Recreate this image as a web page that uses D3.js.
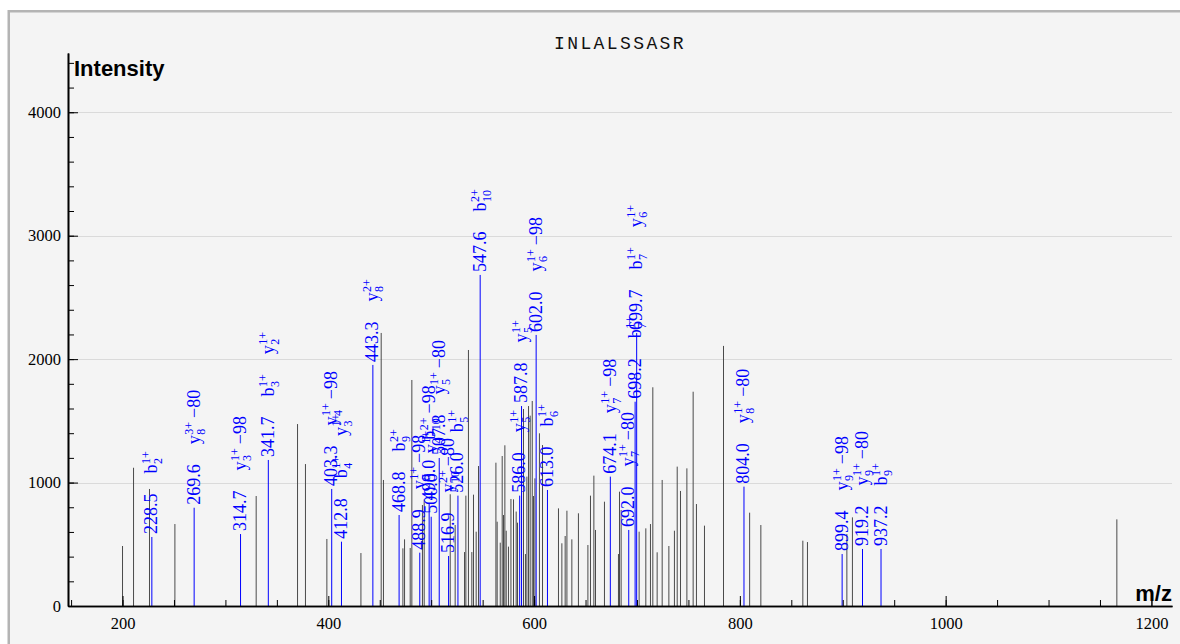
<!DOCTYPE html>
<html>
<head>
<meta charset="utf-8">
<script src="https://cdn.jsdelivr.net/npm/d3@7"></script>
<style>
  html, body { margin: 0; padding: 0; background: #ffffff; }
  svg { display: block; }
</style>
</head>
<body>
<svg id="chart" width="1180" height="644"></svg>
<script>
// ---------------- data ----------------
const peptide = "INLALSSASR";
const xAxisTitle = "m/z";
const yAxisTitle = "Intensity";

// unannotated peaks
const grayMz = [200.0, 210.7, 226.2, 250.9, 329.9, 370.1, 377.8, 398.6, 431.7, 451.4, 453.6,
  472.5, 474.1, 479.6, 481.2, 491.5, 493.2, 518.5, 523.3, 532.4, 533.7, 536.2, 539.5, 541.1,
  543.7, 546.0, 562.9, 564.1, 567.1, 569.0, 570.3, 571.6, 572.9, 575.1, 577.5, 580.0, 582.6,
  583.9, 589.7, 591.6, 593.0, 594.6, 596.2, 598.2, 599.4, 600.8, 605.2, 608.2, 623.7, 627.0,
  630.2, 631.9, 636.7, 643.1, 652.3, 654.8, 658.1, 659.7, 668.4, 682.0, 683.0, 684.6, 702.1,
  708.6, 713.1, 715.4, 719.6, 724.5, 731.0, 736.4, 739.1, 742.3, 748.5, 754.6, 757.8, 765.6,
  784.1, 809.5, 820.4, 861.2, 865.7, 904.0, 909.4, 1166.4];
const grayInt = [486, 1120, 948, 664, 891, 1474, 1150, 543, 429, 2212, 1021,
  467, 540, 470, 1831, 818, 864, 905, 656, 437, 894, 2074, 437, 902,
  602, 1134, 1161, 683, 513, 1215, 737, 1302, 610, 481, 867, 864, 765,
  675, 1596, 421, 1048, 1620, 1542, 1661, 891, 1034, 1399, 1304, 791, 508,
  567, 772, 540, 751, 494, 894, 1056, 616, 845, 421, 926, 778, 602,
  629, 664, 1772, 435, 1021, 486, 610, 1129, 932, 1115, 1736, 826, 651,
  2107, 756, 656, 529, 518, 583, 718, 702];

// annotated peaks
const ionMz = [228.5, 269.6, 314.7, 341.7, 403.3, 412.8, 443.3, 468.8, 488.9, 498.0, 500.0,
  507.8, 516.9, 526.0, 547.6, 586.0, 587.8, 602.0, 613.0, 674.1, 692.0, 698.2, 699.7,
  804.0, 899.4, 919.2, 937.2];
const ionInt = [559, 796, 583, 1183, 948, 521, 1953, 737, 432, 832, 723,
  1199, 405, 894, 2682, 894, 1620, 2196, 940, 1048, 616, 1655, 2212,
  967, 421, 462, 462];
const ionNames = [
  ["b_2^1+"], ["y_8^3+ −80"], ["y_3^1+ −98"], ["b_3^1+", "y_2^1+"], ["y_4^1+ −98"],
  ["b_4^1+", "y_3^1+"], ["y_8^2+"], ["b_9^2+"], ["y_5^1+ −98"], ["b_10^2+ −98"], ["y_4^1+"],
  ["y_5^1+ −80"], ["y_10^2+ −80"], ["b_5^1+"], ["b_10^2+"], ["y_5^1+"], ["y_5^1+"],
  ["y_6^1+ −98"], ["b_6^1+"], ["y_7^1+ −98"], ["y_7^1+ −80"], ["b_7^1+"], ["b_7^1+", "y_6^1+"],
  ["y_8^1+ −80"], ["y_9^1+ −98"], ["y_9^1+ −80"], ["b_9^1+"]
];

const xMajorTicks = [200, 400, 600, 800, 1000, 1200];
const yMajorTicks = [0, 1000, 2000, 3000, 4000];

// ---------------- drawing ----------------
const svg = d3.select("#chart");
const plot = { left: 68, right: 1172, top: 53, bottom: 606 };

// frame
svg.append("rect").attr("x", 8.75).attr("y", 11.25).attr("width", 1200).attr("height", 700)
  .attr("fill", "#f4f4f4").attr("stroke", "#b4b4b4").attr("stroke-width", 2.5);

const x = d3.scaleLinear().domain([147, 1220]).range([plot.left, plot.right]);
const y = d3.scaleLinear().domain([0, 4480]).range([plot.bottom, plot.top]);

// grid
svg.append("g").selectAll("line").data(yMajorTicks.filter(d => d > 0)).join("line")
  .attr("x1", plot.left).attr("x2", plot.right)
  .attr("y1", d => Math.round(y(d)) + 0.5).attr("y2", d => Math.round(y(d)) + 0.5)
  .attr("stroke", "#dadada").attr("stroke-width", 1);

// title
svg.append("text").attr("x", 620).attr("y", 49).attr("text-anchor", "middle")
  .attr("font-family", "'Liberation Mono', 'DejaVu Sans Mono', monospace")
  .attr("font-size", 18).attr("letter-spacing", 2.4).attr("fill", "#111")
  .text(peptide);

// gray peaks
svg.append("g").selectAll("line").data(grayMz.map((m, i) => [m, grayInt[i]])).join("line")
  .attr("x1", d => x(d[0])).attr("x2", d => x(d[0]))
  .attr("y1", plot.bottom).attr("y2", d => y(d[1]))
  .attr("stroke", "#4a4a4a").attr("stroke-width", 1);

// annotated peaks
svg.append("g").selectAll("line").data(ionMz.map((m, i) => [m, ionInt[i]])).join("line")
  .attr("x1", d => x(d[0])).attr("x2", d => x(d[0]))
  .attr("y1", plot.bottom).attr("y2", d => y(d[1]))
  .attr("stroke", "#0000ff").attr("stroke-width", 1);

// axes
const serif = "'Liberation Serif', 'DejaVu Serif', serif";
const xMinor = d3.axisBottom(x).tickValues(d3.range(150, 1201, 50)).tickSize(-6).tickSizeOuter(0).tickFormat("");
const xMajor = d3.axisBottom(x).tickValues(xMajorTicks).tickSize(-10).tickSizeOuter(0).tickPadding(11).tickFormat(d3.format("d"));
const yMinor = d3.axisLeft(y).tickValues(d3.range(0, 4401, 200)).tickSize(-6).tickSizeOuter(0).tickFormat("");
const yMajor = d3.axisLeft(y).tickValues(yMajorTicks).tickSize(-10).tickSizeOuter(0).tickPadding(7).tickFormat(d3.format("d"));

function styleAxis(g) {
  g.selectAll("path").attr("stroke", "#000").attr("stroke-width", 1.6);
  g.selectAll("line").attr("stroke", "#000").attr("stroke-width", 1);
  g.selectAll("text").attr("font-family", serif).attr("font-size", 16.5).attr("fill", "#000");
}
svg.append("g").attr("transform", `translate(0,${plot.bottom})`).call(xMinor).call(styleAxis);
svg.append("g").attr("transform", `translate(0,${plot.bottom})`).call(xMajor).call(styleAxis);
svg.append("g").attr("transform", `translate(${plot.left},0)`).call(yMinor).call(styleAxis);
svg.append("g").attr("transform", `translate(${plot.left},0)`).call(yMajor).call(styleAxis);

// axis titles
svg.append("text").attr("x", 74).attr("y", 76)
  .attr("font-family", "'Liberation Sans', Arial, sans-serif").attr("font-weight", "bold")
  .attr("font-size", 22).attr("fill", "#000").text(yAxisTitle);
svg.append("text").attr("x", 1172).attr("y", 601).attr("text-anchor", "end")
  .attr("font-family", "'Liberation Sans', Arial, sans-serif").attr("font-weight", "bold")
  .attr("font-size", 22).attr("fill", "#000").text(xAxisTitle);

// rotated annotation labels
const labelRe = /^([a-z])_(\d+)\^(\d\+)(.*)$/;
ionMz.forEach((m, i) => {
  const g = svg.append("g")
    .attr("transform", `translate(${x(m)},${y(ionInt[i])}) rotate(-90)`)
    .attr("fill", "#0000ff").attr("font-family", serif);
  let pos = 3;
  const num = g.append("text").attr("x", pos).attr("y", 5.5).attr("font-size", 18).text(m.toFixed(1));
  pos += num.node().getComputedTextLength() + 20;
  ionNames[i].forEach(lbl => {
    const p = lbl.match(labelRe);
    const main = g.append("text").attr("x", pos).attr("y", 5.5).attr("font-size", 18).text(p[1]);
    const wm = main.node().getComputedTextLength();
    const sup = g.append("text").attr("x", pos + wm + 0.5).attr("y", -1.5).attr("font-size", 12).text(p[3]);
    const sub = g.append("text").attr("x", pos + wm + 0.5).attr("y", 10.5).attr("font-size", 12).text(p[2]);
    let w = wm + 0.5 + Math.max(sup.node().getComputedTextLength(), sub.node().getComputedTextLength());
    const suffix = p[4].trim();
    if (suffix) {
      const s = g.append("text").attr("x", pos + w + 4).attr("y", 5.5).attr("font-size", 18).text(suffix);
      w += 4 + s.node().getComputedTextLength();
    }
    pos += w + 20;
  });
});
</script>
</body>
</html>
